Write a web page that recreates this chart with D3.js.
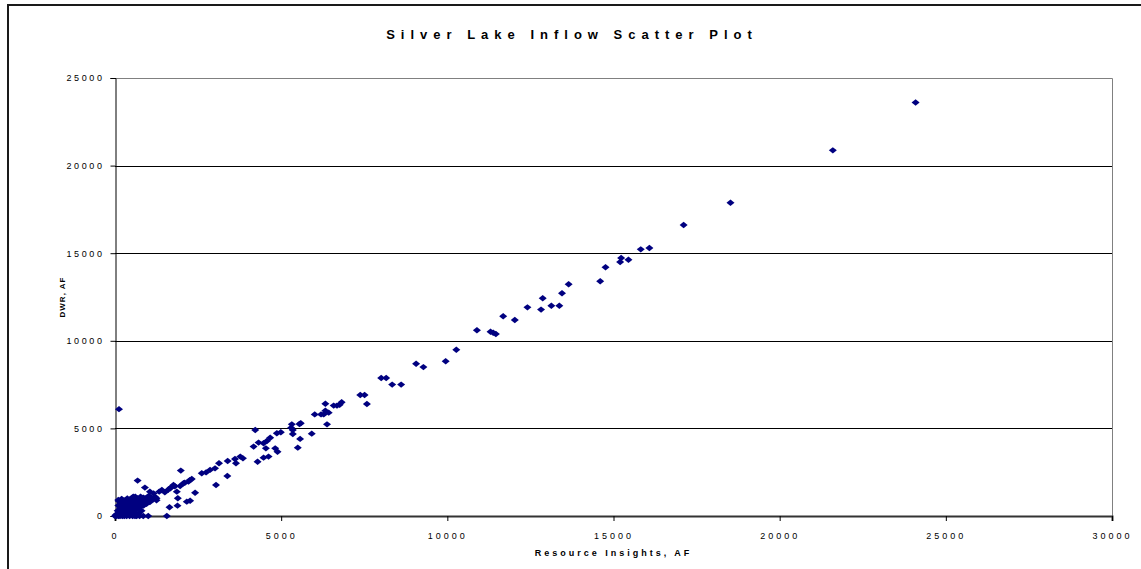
<!DOCTYPE html>
<html>
<head>
<meta charset="utf-8">
<script src="https://cdn.jsdelivr.net/npm/d3@7"></script>
<style>
  html, body { margin: 0; padding: 0; background: #fff; }
  svg { display: block; font-family: "Liberation Sans", Arial, sans-serif; }
</style>
</head>
<body>
<svg id="chart" width="1141" height="569"></svg>
<script>
const chartTitle = "Silver Lake Inflow Scatter Plot";
const xAxisTitle = "Resource Insights, AF";
const yAxisTitle = "DWR, AF";
const xTicks = [0, 5000, 10000, 15000, 20000, 25000, 30000];
const yTicks = [0, 5000, 10000, 15000, 20000, 25000];

// Resource Insights (x), DWR (y) in acre-feet
const lowFlowPoints = [
  [0,0],[20,50],[40,0],[60,120],[80,300],[100,0],[100,600],[110,850],[130,200],[150,450],
  [150,0],[170,700],[180,80],[200,950],[200,350],[220,0],[230,550],[250,800],[260,150],[280,0],
  [290,650],[300,400],[310,900],[330,250],[350,0],[350,700],[370,1000],[380,450],[400,150],[410,850],
  [420,600],[440,0],[450,300],[460,950],[480,750],[500,500],[500,100],[520,1050],[530,0],[540,650],
  [560,350],[580,900],[590,200],[600,0],[610,1100],[620,550],[640,800],[650,0],[660,400],[680,1000],
  [700,650],[710,150],[720,900],[740,0],[750,500],[770,1100],[780,750],[800,300],[820,950],[850,0],
  [860,600],[880,850],[900,1000],[950,700],[980,900],[1000,0],[1020,1150],[1050,800],[1100,1000],[1150,950],
  [1200,1100],[1250,900],[100,910],[200,970],[550,1100],[850,1050],[1000,1100],[900,1620],[680,2020],[1050,1390],
  [1160,1290],[1250,1010],[1330,1390],[1410,1480],[1560,0],[1640,500],[1880,590],[1890,1010],[1860,1390],[1660,1580],
  [1760,1770],[1960,1710],[2060,1870],[2160,820],[2260,870],[2210,1960],[2310,2110],[2410,1330],[1980,2590],[1500,1350],
  [1600,1500],[1700,1650],[1800,1700],[2100,1900],[2250,2050]
];
const midFlowPoints = [
  [2610,2440],[2740,2490],[2860,2630],[3010,2720],[3130,3010],[3040,1770],[3380,2280],[3390,3140],[3640,3010],[3610,3250],
  [3770,3390],[3850,3290],[4290,3100],[4470,3330],[4620,3390],[4170,3960],[4320,4190],[4470,4150],[4570,4280],[4670,4470],
  [4870,4720],[4990,4780],[4540,3860],[4820,3860],[4890,3670],[4220,4910],[5300,5040],[5350,4910],[5320,5230],[5350,4680],
  [5550,5250],[5590,5290],[5570,4400],[5500,3900],[5920,4700],[6010,5800],[6200,5800],[6280,5800],[6380,5230],[6430,5900],
  [6330,6010],[6330,6410],[6580,6300],[6680,6300],[6760,6350],[6820,6490],[7380,6910],[7510,6910],[7580,6390],[8010,7880],
  [8160,7880],[8340,7500],[8610,7500],[9060,8690],[9280,8500],[9950,8830],[10270,9490],[120,6100]
];
const highFlowPoints = [
  [10890,10600],[11300,10520],[11380,10460],[11460,10390],[11680,11400],[12030,11190],[12410,11910],[12820,11780],[12870,12430],[13130,12000],
  [13370,12000],[13450,12710],[13650,13230],[14600,13400],[14760,14200],[15200,14500],[15230,14730],[15450,14630],[15820,15220],[16080,15300],
  [17110,16610],[18520,17880],[21600,20870],[24090,23600]
];

const allPoints = lowFlowPoints.concat(midFlowPoints, highFlowPoints);

const svg = d3.select("#chart");
const plot = { left: 115, right: 1112, top: 78, bottom: 516 };

const x = d3.scaleLinear().domain([0, 30000]).range([plot.left, plot.right]);
const y = d3.scaleLinear().domain([0, 25000]).range([plot.bottom, plot.top]);

// outer frame (top and left edges visible)
svg.append("path")
  .attr("d", `M8,569 V5 H1141`)
  .attr("fill", "none")
  .attr("stroke", "#1a1a1a")
  .attr("stroke-width", 2);

// title
svg.append("text")
  .attr("x", 572).attr("y", 39)
  .attr("text-anchor", "middle")
  .attr("font-size", 13).attr("font-weight", "bold")
  .attr("letter-spacing", 6)
  .text(chartTitle);

// gridlines
svg.append("g").selectAll("line")
  .data(yTicks.filter(d => d > 0 && d < 25000))
  .join("line")
  .attr("x1", plot.left).attr("x2", plot.right)
  .attr("y1", d => Math.round(y(d)) + 0.5).attr("y2", d => Math.round(y(d)) + 0.5)
  .attr("stroke", "#000").attr("stroke-width", 1);

// plot area border top/right (gray)
svg.append("path")
  .attr("d", `M${plot.left},${plot.top + 0.5} H${plot.right + 0.5} V${plot.bottom}`)
  .attr("fill", "none").attr("stroke", "#808080").attr("stroke-width", 1);

// y axis
const yAxis = d3.axisLeft(y).tickValues(yTicks).tickSize(5).tickPadding(6).tickFormat(d3.format("d"));
const gy = svg.append("g").attr("transform", `translate(${plot.left + 0.5},0)`).call(yAxis);
gy.select(".domain").attr("stroke", "#000");
gy.selectAll(".tick line").attr("stroke", "#000");
gy.selectAll(".tick text")
  .attr("font-size", 9).attr("letter-spacing", 2.6).attr("fill", "#000")
  .attr("font-family", "Liberation Sans, Arial, sans-serif");

// x axis
const xAxis = d3.axisBottom(x).tickValues(xTicks).tickSize(5).tickPadding(12).tickFormat(d3.format("d"));
const gx = svg.append("g").attr("transform", `translate(0,${plot.bottom})`).call(xAxis);
gx.select(".domain").attr("stroke", "#333").attr("stroke-width", 2);
gx.selectAll(".tick line").attr("stroke", "#000");
gx.selectAll(".tick text")
  .attr("font-size", 9).attr("letter-spacing", 3).attr("fill", "#000")
  .attr("font-family", "Liberation Sans, Arial, sans-serif");

// axis titles
svg.append("text")
  .attr("x", (plot.left + plot.right) / 2).attr("y", 556)
  .attr("text-anchor", "middle")
  .attr("font-size", 9).attr("font-weight", "bold")
  .attr("letter-spacing", 3)
  .text(xAxisTitle);

svg.append("text")
  .attr("transform", `translate(65,${(plot.top + plot.bottom) / 2}) rotate(-90)`)
  .attr("text-anchor", "middle")
  .attr("font-size", 8).attr("font-weight", "bold")
  .attr("letter-spacing", 1)
  .text(yAxisTitle);

// points (diamonds)
svg.append("g").selectAll("path")
  .data(allPoints)
  .join("path")
  .attr("transform", d => `translate(${x(d[0])},${y(d[1])})`)
  .attr("d", "M0,-3.2L4,0L0,3.2L-4,0Z")
  .attr("fill", "#000080");
</script>
</body>
</html>
